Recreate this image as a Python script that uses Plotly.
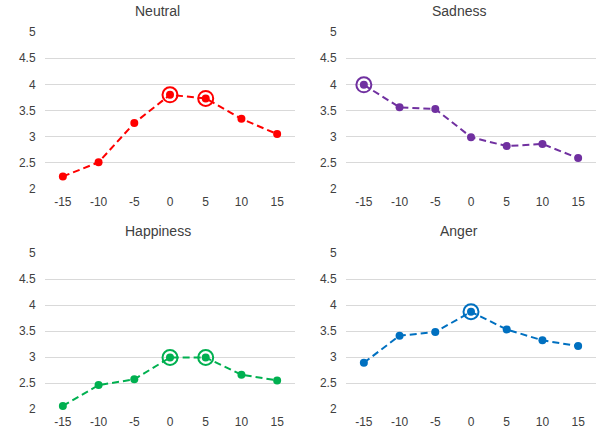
import plotly.graph_objects as go

x_labels = ["-15", "-10", "-5", "0", "5", "10", "15"]
neutral = [2.24, 2.51, 3.26, 3.80, 3.73, 3.34, 3.05]
sadness = [3.99, 3.56, 3.53, 2.99, 2.82, 2.86, 2.59]
happiness = [2.06, 2.46, 2.57, 2.99, 2.99, 2.66, 2.55]
anger = [2.89, 3.41, 3.48, 3.87, 3.53, 3.32, 3.21]

titles = ["Neutral", "Sadness", "Happiness", "Anger"]
colors = ["#FF0000", "#7030A0", "#00B050", "#0070C0"]
series = [neutral, sadness, happiness, anger]
highlights = [["0", "5"], ["-15"], ["0", "5"], ["0"]]

W, H = 600, 429
# plot areas in pixels: (x0, x1, ytop, ybottom)
areas = [(45, 295, 32, 189), (346, 596, 32, 189), (45, 295, 253, 409), (346, 596, 253, 409)]
title_pos = [(158, 11), (459, 11), (158, 231), (459, 231)]

fig = go.Figure()
font_fam = "Liberation Sans, Arial, sans-serif"
for i in range(4):
    ax = "" if i == 0 else str(i + 1)
    x0, x1, yt, yb = areas[i]
    fig.update_layout(**{
        f"xaxis{ax}": dict(domain=[x0 / W, x1 / W], type="category", range=[-0.5, 6.5],
                           showgrid=False, zeroline=False, showline=False,
                           ticks="outside", ticklen=2, tickcolor="rgba(0,0,0,0)",
                           tickfont=dict(size=12, color="#404040", family=font_fam),
                           anchor=f"y{ax}", fixedrange=True, automargin=False),
        f"yaxis{ax}": dict(domain=[1 - yb / H, 1 - yt / H], range=[2, 5],
                           tickvals=[2, 2.5, 3, 3.5, 4, 4.5, 5],
                           ticktext=["2", "2.5", "3", "3.5", "4", "4.5", "5"],
                           showgrid=True, gridcolor="#D9D9D9", gridwidth=1,
                           zeroline=False, showline=False,
                           ticks="outside", ticklen=6, tickcolor="rgba(0,0,0,0)",
                           tickfont=dict(size=12, color="#404040", family=font_fam),
                           anchor=f"x{ax}", fixedrange=True, automargin=False),
    })
    xref = "x" if i == 0 else f"x{i + 1}"
    yref = "y" if i == 0 else f"y{i + 1}"
    fig.add_trace(go.Scatter(x=x_labels, y=series[i], mode="lines+markers",
                             line=dict(color=colors[i], width=2, dash="7px,4px"),
                             marker=dict(color=colors[i], size=8),
                             xaxis=xref, yaxis=yref, showlegend=False, cliponaxis=False))
    hx = highlights[i]
    hy = [series[i][x_labels.index(v)] for v in hx]
    fig.add_trace(go.Scatter(x=hx, y=hy, mode="markers",
                             marker=dict(symbol="circle-open", color=colors[i], size=15,
                                         line=dict(width=2, color=colors[i])),
                             xaxis=xref, yaxis=yref, showlegend=False, cliponaxis=False))
    tx, ty = title_pos[i]
    fig.add_annotation(text=titles[i], x=tx / W, y=1 - ty / H, xref="paper", yref="paper",
                       showarrow=False, xanchor="center", yanchor="middle",
                       font=dict(size=14, color="#404040", family=font_fam))

fig.update_layout(width=W, height=H, margin=dict(l=0, r=0, t=0, b=0),
                  paper_bgcolor="white", plot_bgcolor="white")
fig.write_html("out.html", config={"displayModeBar": False},
               post_script="document.body.style.margin='0';document.body.style.overflow='hidden';")
